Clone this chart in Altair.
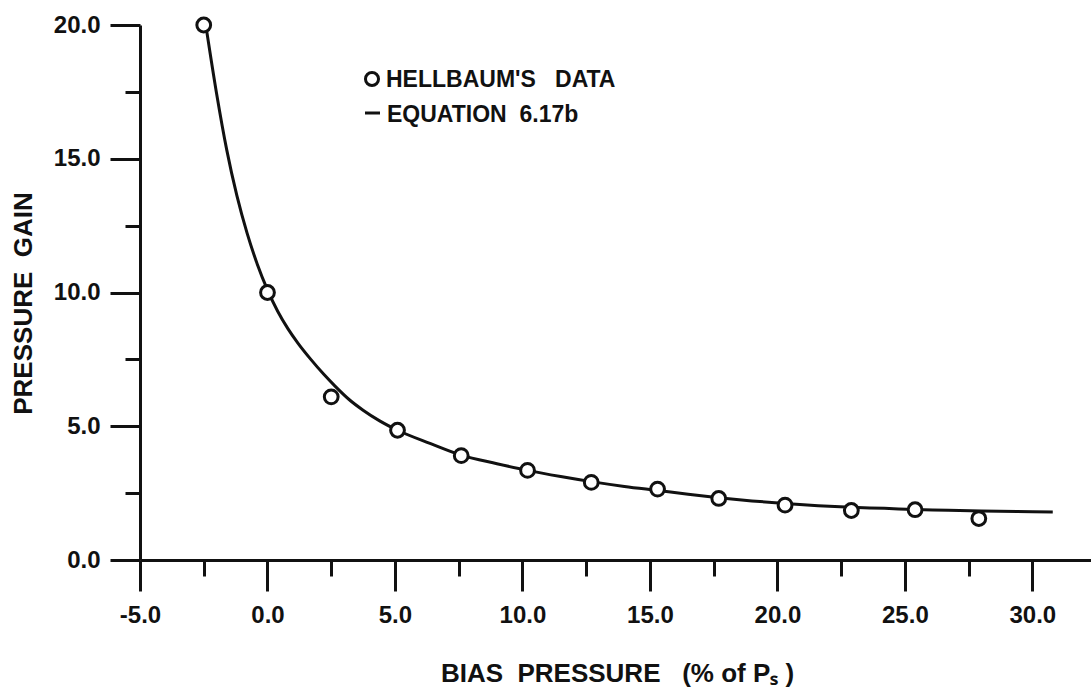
import altair as alt
import pandas as pd

# Hellbaum's measured data (bias pressure %, pressure gain)
data_x = [-2.5, 0.0, 2.5, 5.1, 7.6, 10.2, 12.7, 15.3, 17.7, 20.3, 22.9, 25.4, 27.9]
data_y = [20.0, 10.0, 6.1, 4.85, 3.9, 3.35, 2.9, 2.65, 2.3, 2.05, 1.85, 1.88, 1.55]

# Equation 6.17b curve
curve_x = [-2.42, -2.0, -1.6, -1.2, -0.8, -0.4, 0.0, 0.4, 0.8, 1.2, 1.7, 2.2, 2.65, 3.2,
           3.75, 4.4, 5.1, 6.4, 7.6, 9.0, 10.2, 11.5, 12.7, 14.0, 15.3, 16.5, 17.7, 19.0,
           20.3, 21.6, 22.9, 24.2, 25.4, 26.7, 28.0, 29.4, 30.8]
curve_y = [20.0, 17.46, 15.34, 13.62, 12.22, 11.06, 10.1, 9.3, 8.65, 8.1, 7.5, 6.95, 6.5, 6.0,
           5.6, 5.2, 4.85, 4.35, 3.92, 3.6, 3.35, 3.12, 2.93, 2.75, 2.6, 2.46, 2.33, 2.21,
           2.11, 2.03, 1.97, 1.93, 1.89, 1.86, 1.83, 1.81, 1.79]

x_ticks = [-5, -2.5, 0, 2.5, 5, 7.5, 10, 12.5, 15, 17.5, 20, 22.5, 25, 27.5, 30]
y_ticks = [0, 2.5, 5, 7.5, 10, 12.5, 15, 17.5, 20]

NB = "\u00a0"
legend_labels = ["HELLBAUM'S" + NB * 3 + "DATA", "EQUATION" + NB * 2 + "6.17b"]
x_title = "BIAS" + NB * 2 + "PRESSURE" + NB * 3 + "(%" + NB + "of" + NB + "P\u209b" + NB + ")"
y_title = "PRESSURE" + NB * 2 + "GAIN"

FONT = "Liberation Sans"
INK = "#111111"

pts = pd.DataFrame({"x": data_x, "y": data_y})
crv = pd.DataFrame({"x": curve_x, "y": curve_y})

x_scale = alt.Scale(domain=[-5, 32.3], nice=False, zero=False)
y_scale = alt.Scale(domain=[0, 20], nice=False)

major_test = "datum.value % 5 === 0"
lab_expr = ("datum.value % 5 === 0 ? (datum.value < 0 ? '-' + format(-datum.value, '.1f') "
            ": format(datum.value, '.1f')) : ''")

x_axis = alt.Axis(
    values=x_ticks,
    tickSize={"condition": {"test": major_test, "value": 31}, "value": 16},
    labelExpr=lab_expr,
    labelPadding=12,
    labelOverlap=False,
    labelFlush=False,
    title=x_title,
    titleX=477,
    titleY=113,
    titleAlign="center",
    titleBaseline="middle",
)
y_axis = alt.Axis(
    values=y_ticks,
    tickSize={"condition": {"test": major_test, "value": 30}, "value": 15},
    labelExpr=lab_expr,
    labelPadding=10,
    labelOverlap=False,
    labelFlush=False,
    title=y_title,
    titleAngle=270,
    titleX=-117,
    titleY=278,
    titleAlign="center",
    titleBaseline="middle",
)

line = alt.Chart(crv).mark_line(interpolate="monotone", strokeWidth=3, color=INK).encode(
    x=alt.X("x:Q", scale=x_scale, axis=x_axis),
    y=alt.Y("y:Q", scale=y_scale, axis=y_axis),
)

points = alt.Chart(pts).mark_point(
    shape="circle", filled=True, fill="white", stroke=INK, strokeWidth=3, size=190, opacity=1
).encode(
    x=alt.X("x:Q", scale=x_scale),
    y=alt.Y("y:Q", scale=y_scale),
)

# hand-made key, as in the original drawing
key_df = pd.DataFrame({"label": legend_labels})
key_sym_circle = alt.Chart(key_df.iloc[[0]]).mark_point(
    shape="circle", filled=True, fill="white", stroke=INK, strokeWidth=3, size=170, opacity=1
).encode(x=alt.value(232), y=alt.value(54))
key_sym_line = alt.Chart(key_df.iloc[[1]]).mark_rule(strokeWidth=3, color=INK).encode(
    x=alt.value(225), x2=alt.value(240), y=alt.value(88)
)
key_text_1 = alt.Chart(key_df.iloc[[0]]).mark_text(
    align="left", baseline="middle", font=FONT, fontSize=23, fontWeight="bold", color=INK
).encode(x=alt.value(246), y=alt.value(55), text="label:N")
key_text_2 = alt.Chart(key_df.iloc[[1]]).mark_text(
    align="left", baseline="middle", font=FONT, fontSize=23, fontWeight="bold", color=INK
).encode(x=alt.value(247), y=alt.value(90), text="label:N")

chart = (
    alt.layer(line, points, key_sym_circle, key_sym_line, key_text_1, key_text_2)
    .properties(
        width=951,
        height=535,
        autosize=alt.AutoSizeParams(type="none"),
        padding={"left": 140, "top": 25, "right": 0, "bottom": 128},
        background="white",
    )
    .configure_view(stroke=None)
    .configure_axis(
        grid=False,
        domainColor=INK,
        domainWidth=3,
        tickColor=INK,
        tickWidth=3,
        labelFont=FONT,
        labelFontSize=24,
        labelFontWeight="bold",
        labelColor=INK,
        titleFont=FONT,
        titleFontSize=26,
        titleFontWeight="bold",
        titleColor=INK,
    )
)

chart.save("out.html", embed_options={"renderer": "svg", "actions": False})
